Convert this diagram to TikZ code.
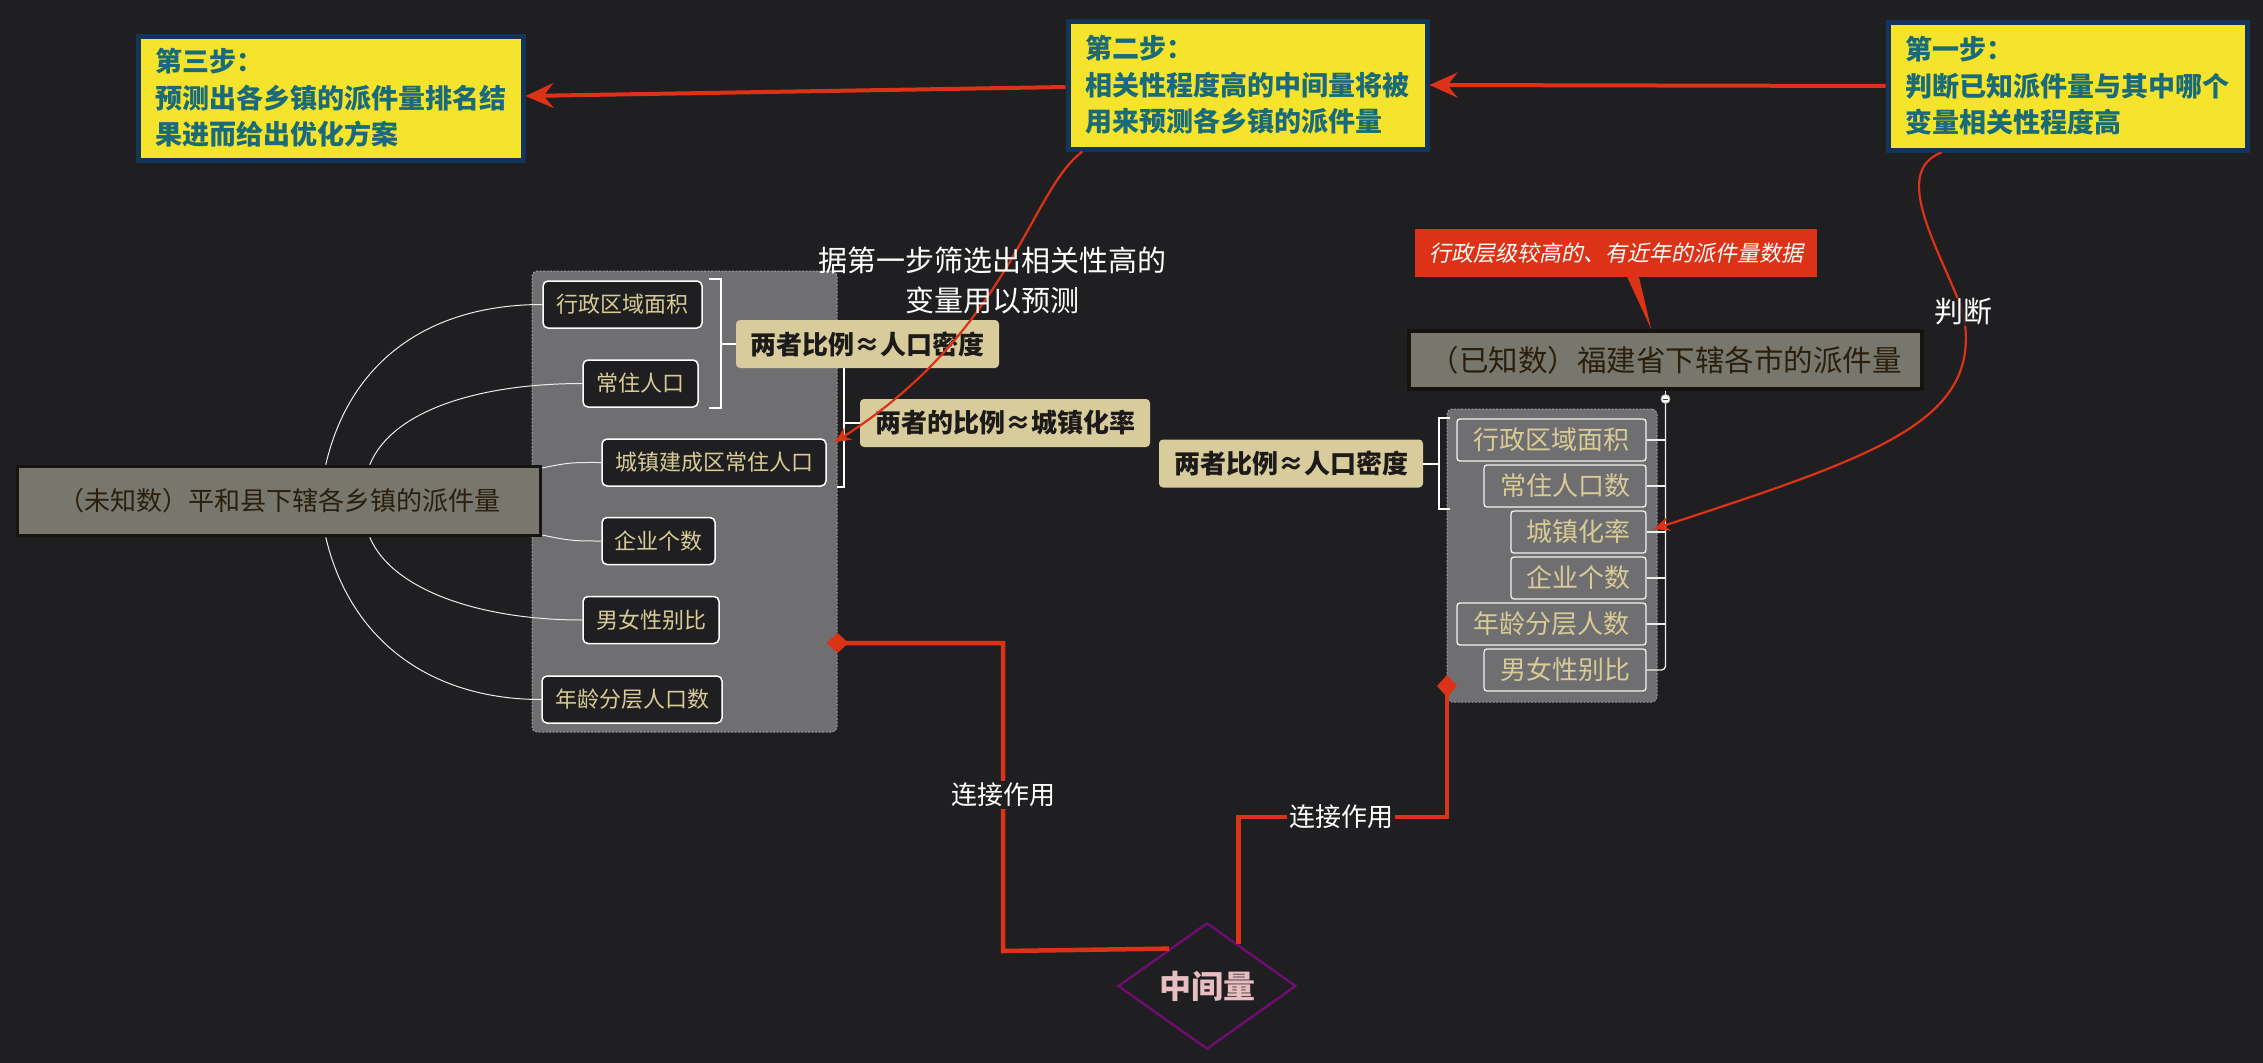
\documentclass[tikz,border=0pt]{standalone}
\usepackage{fontspec}
\setmainfont{Noto Sans CJK SC}
\newfontfamily\slfont{Noto Sans CJK SC}[FakeSlant=0.2]
\usetikzlibrary{arrows.meta,shapes.geometric,calc}
\definecolor{bgc}{HTML}{1F1F21}
\definecolor{yel}{HTML}{F5E42B}
\definecolor{navyb}{HTML}{14355A}
\definecolor{steptxt}{HTML}{1A6B7A}
\definecolor{redc}{HTML}{DC3217}
\definecolor{nodegray}{HTML}{77776D}
\definecolor{nodeedge}{HTML}{15140D}
\definecolor{nodetxt}{HTML}{2A1E0C}
\definecolor{panelc}{HTML}{6F6F71}
\definecolor{beige}{HTML}{D9CC9C}
\definecolor{tagtxt}{HTML}{1D1B19}
\definecolor{childtxt}{HTML}{D8CB95}
\definecolor{purp}{HTML}{6D0D6D}
\definecolor{pinktxt}{HTML}{E8BEC2}
\tikzset{
  stepbox/.style={draw=navyb, line width=5pt, fill=yel, text=steptxt,
    font=\bfseries\fontsize{27pt}{36.5pt}\selectfont, align=left,
    inner xsep=17pt, inner ysep=0pt, anchor=north west},
  topicbox/.style={draw=nodeedge, line width=3.5pt, fill=nodegray, text=nodetxt, inner sep=0pt},
  panelbox/.style={fill=panelc, draw=gray!80, dash pattern=on 2pt off 1.5pt, line width=1pt,
    rounded corners=5pt, inner sep=0pt},
  leftchild/.style={fill=bgc, draw=white, line width=1.5pt, rounded corners=5pt, text=childtxt,
    font=\fontsize{22pt}{26pt}\selectfont, minimum height=47pt, inner sep=0pt},
  rightchild/.style={draw=white!90!gray, line width=1.3pt, rounded corners=3pt, text=childtxt,
    font=\fontsize{26pt}{30pt}\selectfont, minimum height=42pt, inner sep=0pt},
  tagbox/.style={fill=beige, rounded corners=4pt, text=tagtxt,
    font=\bfseries\fontsize{26pt}{30pt}\selectfont, minimum height=48pt, inner sep=0pt},
  bracketline/.style={draw=white, line width=2pt},
  thinlink/.style={draw=white!85!gray, line width=1pt},
  treeline/.style={draw=white!85!gray, line width=1.3pt},
  redthin/.style={draw=redc, line width=2.2pt},
  redthick/.style={draw=redc, line width=4.5pt},
  steparrow/.style={draw=redc, line width=4pt, -{Stealth[length=28pt,width=25pt,inset=10pt]}},
  linklabel/.style={fill=bgc, text=white, font=\fontsize{26pt}{30pt}\selectfont, inner sep=2pt},
  freelabel/.style={fill=bgc, fill opacity=0.8, text opacity=1, text=white, inner sep=1pt},
  plainlabel/.style={text=white, inner sep=1pt},
}
\begin{document}
\begin{tikzpicture}[x=1pt,y=-1pt]
\fill[bgc] (0,0) rectangle (2263,1063);
\useasboundingbox (0,0) rectangle (2263,1063);

% step boxes
\node[stepbox, text width=351pt, minimum height=124pt] (s3) at (135.5,33.5)
  {第三步：\\预测出各乡镇的派件量排名结\\果进而给出优化方案};
\node[stepbox, text width=325pt, minimum height=128pt] (s2) at (1065.5,18.5)
  {第二步：\\相关性程度高的中间量将被\\用来预测各乡镇的派件量};
\node[stepbox, text width=325pt, minimum height=128pt] (s1) at (1885.5,19.5)
  {第一步：\\判断已知派件量与其中哪个\\变量相关性程度高};
\draw[steparrow] (s1.west) -- (s2.east);
\draw[steparrow] ($(s2.west)+(0,2)$) -- ($(s3.east)+(0,-2)$);

% left panel and children
\node[panelbox, minimum width=305pt, minimum height=461pt] (lp) at (684.5,501.5) {};
\node[leftchild, minimum width=159pt] (lc1) at (622.5,304.5) {行政区域面积};
\node[leftchild, minimum width=115pt] (lc2) at (640.5,383.5) {常住人口};
\node[leftchild, minimum width=224pt] (lc3) at (714,462.5) {城镇建成区常住人口};
\node[leftchild, minimum width=113pt] (lc4) at (658.5,541) {企业个数};
\node[leftchild, minimum width=136pt] (lc5) at (651,620) {男女性别比};
\node[leftchild, minimum width=180pt] (lc6) at (632,699.5) {年龄分层人口数};

% unknown topic
\node[topicbox, minimum width=523pt, minimum height=69pt, font=\fontsize{26pt}{30pt}\selectfont]
  (un) at (279,501) {（未知数）平和县下辖各乡镇的派件量};
\draw[thinlink] ($(un.north west)+(310,0)$) .. controls (350,360) and (430,304.5) .. (lc1.west);
\draw[thinlink] ($(un.north west)+(354,0)$) .. controls (392,410) and (480,383.5) .. (lc2.west);
\draw[thinlink] ($(un.east)+(0,-33)$) .. controls (570,462) and (575,462.5) .. (lc3.west);
\draw[thinlink] ($(un.east)+(0,34)$) .. controls (570,541) and (575,541) .. (lc4.west);
\draw[thinlink] ($(un.south west)+(354,0)$) .. controls (392,590) and (480,620) .. (lc5.west);
\draw[thinlink] ($(un.south west)+(310,0)$) .. controls (350,640) and (430,699.5) .. (lc6.west);

% brackets and tags (left)
\draw[bracketline] (709,279) -- (721,279) -- (721,408) -- (709,408);
\draw[bracketline] (837,360) -- (844,360) -- (844,487) -- (837,487);
\node[tagbox, minimum width=263pt] (lbl1) at (867.5,344) {两者比例≈人口密度};
\node[tagbox, minimum width=290pt] (lbl2) at (1005,423) {两者的比例≈城镇化率};
\draw[bracketline] (lbl1.west) -- ++(-15,0);
\draw[bracketline] (lbl2.west) -- ++(-16,0);

% step two to urban resident population
\draw[redthin, -{Stealth[length=16pt,width=14pt,inset=5pt]}]
  ($(s2.south west)+(17,0)$) .. controls (1030,190) and (1010,330) .. ($(lc3.north east)+(8,4)$);
\node[plainlabel, align=center, font=\fontsize{29pt}{40pt}\selectfont] (sel) at (992,280)
  {据第一步筛选出相关性高的\\变量用以预测};

% known topic and callout
\node[topicbox, minimum width=513pt, minimum height=58pt, font=\fontsize{29.5pt}{34pt}\selectfont]
  (kn) at (1665.5,360) {（已知数）福建省下辖各市的派件量};
\node[fill=redc, text=white, font=\slfont\fontsize{22pt}{26pt}\selectfont, minimum width=402pt,
  minimum height=48pt, inner sep=0pt] (co) at (1616,253) {行政层级较高的、有近年的派件量数据};
\fill[redc] ($(co.south west)+(212,-1)$) -- ($(co.south west)+(224,-1)$) -- ($(kn.north west)+(244,0)$) -- cycle;

% right panel and children
\node[panelbox, minimum width=210pt, minimum height=293pt] (rp) at (1552,555.5) {};
\node[rightchild, minimum width=189pt] (rc1) at (1551.5,440) {行政区域面积};
\node[rightchild, minimum width=162pt] (rc2) at (1565,486) {常住人口数};
\node[rightchild, minimum width=135pt] (rc3) at (1578.5,532) {城镇化率};
\node[rightchild, minimum width=135pt] (rc4) at (1578.5,578) {企业个数};
\node[rightchild, minimum width=189pt] (rc5) at (1551.5,624) {年龄分层人数};
\node[rightchild, minimum width=162pt] (rc6) at (1565,670) {男女性别比};
\coordinate (knob) at (1665.5,399);
\draw[treeline] (kn.south) -- (knob);
\draw[treeline, rounded corners=4pt] (knob) |- (rc6.east);
\foreach \i in {1,...,5} { \draw[treeline] (rc\i.east) -- (rc\i.east -| knob); }
\draw[fill=white, draw=gray!60, line width=0.8pt] (knob) circle (4.5pt);
\draw[gray!50!black, line width=1pt] ($(knob)+(-2.5,0)$) -- ($(knob)+(2.5,0)$);

% bracket and tag (right)
\draw[bracketline] (1450,418) -- (1439,418) -- (1439,509) -- (1450,509);
\node[tagbox, minimum width=264pt] (lbl3) at (1291,463.5) {两者比例≈人口密度};
\draw[bracketline] (lbl3.east) -- ++(16,0);

% judge curve
\draw[redthin, -{Stealth[length=16pt,width=14pt,inset=5pt]}]
  ($(s1.south west)+(56,0)$) .. controls (1890,172) and (1940,250) .. (1963,312)
  node[freelabel, font=\fontsize{29pt}{34pt}\selectfont] (jd) {判断}
  .. controls (1985,420) and (1880,455) .. ($(rc3.east)+(7,-3)$);

% intermediate quantity
\node[draw=purp, line width=2.5pt, shape=diamond, minimum width=178pt, minimum height=122pt,
  inner sep=0pt, text=pinktxt, font=\bfseries\fontsize{32pt}{36pt}\selectfont] (dm) at (1207,986) {中间量};
\draw[redthick, {Diamond[length=22pt,width=20pt]}-]
  ($(lp.east)+(-11,141.5)$) -- (1003,643) -- (1003,795) node[linklabel] (l1) {连接作用}
  -- (1003,951) -- ($(dm.west)!0.58!(dm.north)$);
\draw[redthick, -{Diamond[length=22pt,width=20pt]}]
  ($(dm.north)!0.35!(dm.east)$) |- (1341,817) node[linklabel] (l2) {连接作用}
  -| ($(rp.south west)+(0.5,-27.5)$);
\end{tikzpicture}
\end{document}
